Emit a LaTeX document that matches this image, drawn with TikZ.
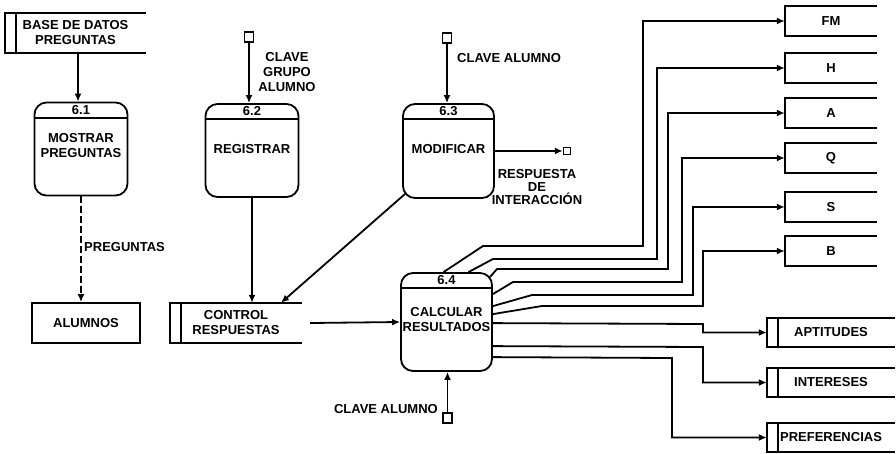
\documentclass[tikz,border=0pt]{standalone}
\usepackage{fontspec}
\setmainfont{Liberation Sans}
\usetikzlibrary{arrows.meta,calc}
\begin{document}
\begin{tikzpicture}[x=1pt,y=-1pt,
  every node/.style={font=\fontsize{13}{15}\selectfont\bfseries, inner sep=0pt},
  ln/.style={line width=1.8pt},
  arr/.style={ln, -{Latex[length=8pt,width=7pt]}},
  procbox/.style={draw, ln, rounded corners=12pt, minimum width=93pt, minimum height=93pt},
  sq/.style={draw, line width=1.5pt, minimum width=9pt, minimum height=10pt},
  lbl/.style={align=center}
]
\useasboundingbox (0,0) rectangle (896,453);

% processes
\node[procbox] (p61) at (81,149) {};
\node[procbox] (p62) at (252,150.5) {};
\node[procbox, minimum width=91pt, minimum height=94pt] (p63) at (448.5,151) {};
\node[procbox, minimum width=91pt, minimum height=98pt] (p64) at (446.5,322) {};
\foreach \p in {p61,p62,p63,p64}
  \draw[ln] ($(\p.north west)+(0,16)$) -- ($(\p.north east)+(0,16)$);
\node (h61) at ($(p61.north)+(0,8)$) {6.1};
\node (h62) at ($(p62.north)+(0,8)$) {6.2};
\node (h63) at ($(p63.north)+(0,8)$) {6.3};
\node (h64) at ($(p64.north)+(0,8)$) {6.4};
\node[lbl] (t61) at ($(p61.north)+(0,44)$) {MOSTRAR\\PREGUNTAS};
\node[lbl] (t62) at ($(p62.north)+(0,46)$) {REGISTRAR};
\node[lbl] (t63) at ($(p63.north)+(0,46)$) {MODIFICAR};
\node[lbl] (t64) at ($(p64.north)+(0,47)$) {CALCULAR\\RESULTADOS};

% data stores (double bar, open right)
\node[lbl, minimum width=141pt, minimum height=40pt] (base) at (75.5,33) {BASE DE DATOS\\PREGUNTAS};
\node[lbl, minimum width=132pt, minimum height=40pt] (ctrl) at (236,323) {CONTROL\\RESPUESTAS};
\node[minimum width=128pt, minimum height=29pt] (apt) at (831,332.5) {APTITUDES};
\node[minimum width=128pt, minimum height=29pt] (int) at (831,382.5) {INTERESES};
\node[minimum width=128pt, minimum height=29pt] (pref) at (831,437.5) {PREFERENCIAS};
\foreach \n in {base,ctrl,apt,int,pref} {
  \draw[ln] (\n.north east) -- (\n.north west) -- (\n.south west) -- (\n.south east);
  \draw[ln] ($(\n.north west)+(11,0)$) -- ($(\n.south west)+(11,0)$);
}
% single bar stores
\node[minimum width=92pt, minimum height=29pt] (fm) at (831,21) {FM};
\node[minimum width=92pt, minimum height=29pt] (h) at (831,68) {H};
\node[minimum width=92pt, minimum height=29pt] (a) at (831,113) {A};
\node[minimum width=92pt, minimum height=29pt] (q) at (831,158) {Q};
\node[minimum width=92pt, minimum height=29pt] (s) at (831,207) {S};
\node[minimum width=92pt, minimum height=29pt] (b) at (831,251) {B};
\foreach \n in {fm,h,a,q,s,b}
  \draw[ln] (\n.north east) -- (\n.north west) -- (\n.south west) -- (\n.south east);

% entity
\node[draw, ln, minimum width=108pt, minimum height=40pt] (alum) at (86,323) {ALUMNOS};

% sources / sinks
\node[sq] (sq62) at (249,37) {};
\node[sq] (sq63) at (447,38) {};
\node[sq] (sq64) at (447.5,418) {};
\node[sq, minimum width=7pt, minimum height=7pt] (sink) at (567,151) {};

\coordinate (x78) at (78,0);
\coordinate (x281) at (281,0);

% flows
\draw[arr] (base.south -| x78) -- (p61.north -| x78);
\draw[arr, dash pattern=on 7pt off 3pt] (p61.south) -- (p61.south |- alum.north);
\node[anchor=west] (lpreg) at (84,247) {PREGUNTAS};

\draw[arr] (sq62.south) -- (sq62.south |- p62.north);
\node[lbl] (l62) at (287,72) {CLAVE\\GRUPO\\ALUMNO};
\draw[arr] (sq63.south) -- (sq63.south |- p63.north);
\node[anchor=west] (l63) at (457,58) {CLAVE ALUMNO};
\draw[arr] (p63.east) -- (sink.west);
\node[align=center, font=\fontsize{13}{13}\selectfont\bfseries] (lresp) at (537,187) {RESPUESTA\\DE\\INTERACCIÓN};
\draw[arr] ($(p63.south west)+(3,-5)$) -- (ctrl.north -| x281);
\draw[arr] (p62.south) -- (p62.south |- ctrl.north);
\draw[arr] ($(ctrl.east)+(8,0)$) -- (p64.west);
\draw[arr] (sq64.north) -- (sq64.north |- p64.south);
\node[anchor=east] (l64) at (438,409) {CLAVE ALUMNO};

\draw[arr] ($(p64.north)+(-3,0)$) -- (483,246) -- (643,246) |- (fm.west);
\draw[arr] ($(p64.north)+(22,0)$) -- (493,259) -- (657,259) |- (h.west);
\draw[arr] ($(p64.north east)+(-3,5)$) -- (497,269) -- (668,269) |- (a.west);
\draw[arr] ($(p64.north east)+(0,22)$) -- (513,282) -- (682,282) |- (q.west);
\draw[arr] ($(p64.north east)+(0,34)$) -- (532,295) -- (693,295) |- (s.west);
\draw[arr] ($(p64.north east)+(0,42)$) -- (542,306) -- (703,306) |- (b.west);
\draw[arr] ($(p64.north east)+(0,51)$) -- (703,324) |- (apt.west);
\draw[arr] ($(p64.north east)+(0,74)$) -- (703,347) |- (int.west);
\draw[arr] ($(p64.north east)+(0,85)$) -- (672,358) |- (pref.west);
\end{tikzpicture}
\end{document}
